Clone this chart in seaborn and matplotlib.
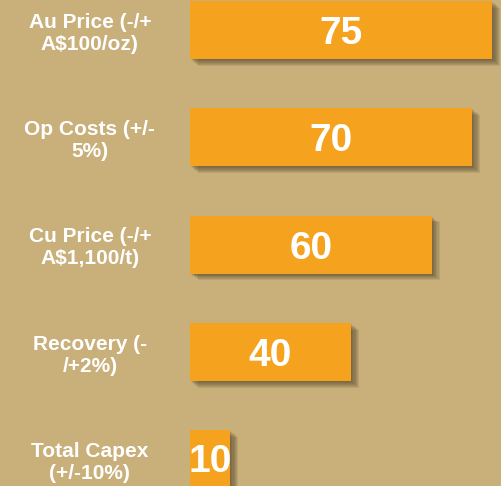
import matplotlib
matplotlib.use("Agg")
import matplotlib.pyplot as plt
import matplotlib.patheffects as pe
import seaborn as sns

# Sensitivity data
labels = [
    "Au Price (-/+\nA\\$100/oz)",
    "Op Costs (+/-\n5%)",
    "Cu Price (-/+\nA\\$1,100/t)",
    "Recovery (-\n/+2%)",
    "Total Capex\n(+/-10%)",
]
values = [75, 70, 60, 40, 10]

bg = "#C9B07B"
bar_color = "#F5A31F"

sns.set_style("white")
plt.rcParams['font.family'] = ['Liberation Sans', 'DejaVu Sans']

fig = plt.figure(figsize=(5.02, 4.86), dpi=100, facecolor=bg)
ax = fig.add_axes([0, 0, 1, 1])
ax.set_facecolor(bg)

sns.barplot(x=values, y=labels, orient="h", color=bar_color, saturation=1,
            width=0.54, ax=ax)

# soft, blurred-looking drop shadow under the bars
shadow = []
for k in range(7, 0, -1):
    shadow.append(pe.SimplePatchShadow(offset=(0.8 * k, -0.7 * k),
                                       shadow_rgbFace="#4a3d25", alpha=0.12))
for bar in ax.patches:
    bar.set_path_effects(shadow + [pe.Normal()])
    bar.set_linewidth(0)

texts = ax.bar_label(ax.containers[0], label_type="center", color="white",
                     fontsize=28, fontweight="bold")
for t in texts:
    t.set_va("center_baseline")

# category labels centred to the left of the bars
for i, lab in enumerate(labels):
    ax.text(-24.8, i + 0.03, lab, ha="center", va="center", color="white",
            fontsize=15, fontweight="bold", linespacing=1.2)

ax.set_xlim(-47.1, 77.4)
ax.set_ylim(4.25, -0.28)
ax.set_yticks([])
ax.set_xticks([])
ax.set_ylabel("")
sns.despine(ax=ax, left=True, bottom=True)

fig.savefig("out.png", dpi=100, facecolor=bg)
